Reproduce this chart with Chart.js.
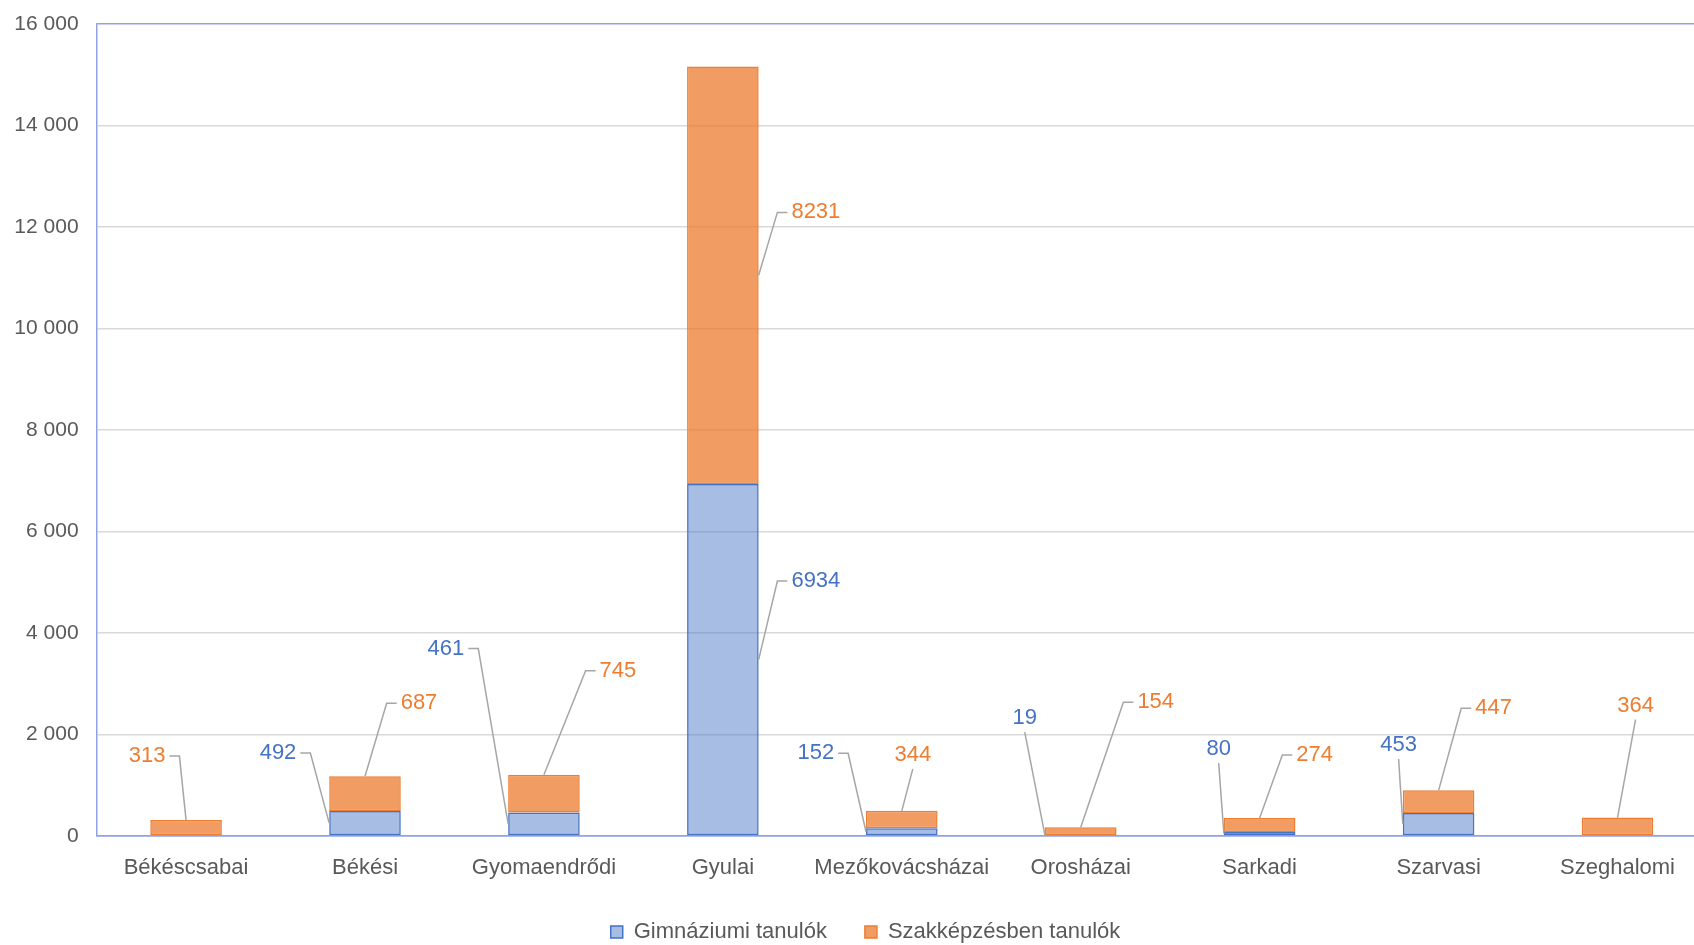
<!DOCTYPE html>
<html lang="hu">
<head>
<meta charset="utf-8">
<title>Tanulók járásonként</title>
<script src="https://cdn.jsdelivr.net/npm/chart.js@4.4.1/dist/chart.umd.min.js"></script>
<style>
  html, body { margin: 0; padding: 0; background: #fff; overflow: hidden; }
  #wrap { position: relative; width: 1730px; height: 945px; }
</style>
</head>
<body>
<div id="wrap"><canvas id="chart"></canvas></div>
<script>
// ── Data ────────────────────────────────────────────────────
const districts = ['Békéscsabai', 'Békési', 'Gyomaendrődi', 'Gyulai', 'Mezőkovácsházai',
                   'Orosházai', 'Sarkadi', 'Szarvasi', 'Szeghalomi'];
const gimnaziumi = [0, 492, 461, 6934, 152, 19, 80, 453, 0];
const szakkepzes = [313, 687, 745, 8231, 344, 154, 274, 447, 364];
const seriesNames = ['Gimnáziumi tanulók', 'Szakképzésben tanulók'];
const yTicks = { min: 0, max: 16000, step: 2000 };

// ── Style ───────────────────────────────────────────────────
const colors = {
  blue: '#4472C4',
  blueFill: 'rgba(68, 114, 196, 0.47)',
  orange: '#ED7D31',
  orangeFill: 'rgba(237, 125, 49, 0.76)',
  grid: '#D9D9D9',
  axis: '#8FA3E3',
  text: '#595959',
  leader: '#A6A6A6'
};
const FONT = "'Liberation Sans', Arial, sans-serif";

// where each moved data label sits, relative to its segment top (px),
// which side the leader leaves the label, and where it meets the bar
const labelPlacement = [
  [null,
   { dx: -87, dy: -58, stub: 'right', anchor: 'left' },
   { dx: -98, dy: -164, stub: 'right', anchor: 'left' },
   { dx: 93, dy: 97, stub: 'left', anchor: 'right' },
   { dx: -86, dy: -75, stub: 'right', anchor: 'left' },
   { dx: -56, dy: -117, stub: 'bottom', anchor: 'left' },
   { dx: -41, dy: -83, stub: 'bottom', anchor: 'left' },
   { dx: -40, dy: -68, stub: 'bottom', anchor: 'left' },
   null],
  [{ dx: -39, dy: -64, stub: 'right', anchor: 'top' },
   { dx: 54, dy: -73, stub: 'left', anchor: 'top' },
   { dx: 74, dy: -104, stub: 'left', anchor: 'top' },
   { dx: 93, dy: 146, stub: 'left', anchor: 'right' },
   { dx: 11, dy: -56, stub: 'bottom', anchor: 'top' },
   { dx: 75, dy: -125, stub: 'left', anchor: 'top' },
   { dx: 55, dy: -63, stub: 'left', anchor: 'top' },
   { dx: 55, dy: -82, stub: 'left', anchor: 'top' },
   { dx: 18, dy: -112, stub: 'bottom', anchor: 'top' }]
];

const fmtThousands = v => String(v).replace(/\B(?=(\d{3})+(?!\d))/g, ' ');

// Data labels with Excel-style leader lines
const calloutLabels = {
  id: 'calloutLabels',
  afterLayout(chart) {
    // legend sits a little right of the canvas centre, as in the source
    if (chart.legend) { chart.legend.left += 12; chart.legend.right += 12; }
  },
  afterDatasetsDraw(chart) {
    const ctx = chart.ctx;
    ctx.save();
    ctx.font = '22px ' + FONT;
    ctx.textAlign = 'center';
    ctx.textBaseline = 'middle';
    chart.data.datasets.forEach((ds, di) => {
      const meta = chart.getDatasetMeta(di);
      meta.data.forEach((el, i) => {
        const v = ds.data[i];
        const p = labelPlacement[di][i];
        if (!v || !p) return;
        const txt = String(v);
        const w = ctx.measureText(txt).width;
        const cx = el.x + p.dx;
        const cy = el.y + p.dy;

        // anchor point on the bar segment
        const half = el.width / 2;
        const mid = (el.y + el.base) / 2;
        let ax = el.x, ay = el.y;
        if (p.anchor === 'left') { ax = el.x - half; ay = mid; }
        if (p.anchor === 'right') { ax = el.x + half; ay = mid; }

        ctx.beginPath();
        if (p.stub === 'left') {
          ctx.moveTo(cx - w / 2 - 4, cy);
          ctx.lineTo(cx - w / 2 - 14, cy);
        } else if (p.stub === 'right') {
          ctx.moveTo(cx + w / 2 + 4, cy);
          ctx.lineTo(cx + w / 2 + 14, cy);
        } else {
          ctx.moveTo(cx, cy + 14);
        }
        ctx.lineTo(ax, ay);
        ctx.strokeStyle = colors.leader;
        ctx.lineWidth = 1.5;
        ctx.stroke();

        ctx.fillStyle = di === 0 ? colors.blue : colors.orange;
        ctx.fillText(txt, cx, cy);
      });
    });
    ctx.restore();
  }
};

new Chart(document.getElementById('chart'), {
  type: 'bar',
  data: {
    labels: districts,
    datasets: [
      {
        label: seriesNames[0],
        data: gimnaziumi,
        backgroundColor: colors.blueFill,
        borderColor: colors.blue,
        borderWidth: 1.5,
        borderSkipped: false
      },
      {
        label: seriesNames[1],
        data: szakkepzes,
        backgroundColor: colors.orangeFill,
        borderColor: colors.orange,
        borderWidth: 1.5,
        borderSkipped: false
      }
    ]
  },
  options: {
    responsive: true,
    maintainAspectRatio: false,
    animation: false,
    barPercentage: 0.4,
    categoryPercentage: 1,
    layout: { padding: { left: 0, right: 23, top: 0, bottom: -8 } },
    scales: {
      x: {
        stacked: true,
        grid: { display: false, drawTicks: false },
        border: { color: colors.axis, width: 1.5 },
        ticks: { color: colors.text, font: { family: FONT, size: 22 }, padding: 19, maxRotation: 0 },
        afterFit(scale) { scale.height = 47; }
      },
      y: {
        stacked: true,
        min: yTicks.min,
        max: yTicks.max,
        ticks: {
          stepSize: yTicks.step,
          color: colors.text,
          font: { family: FONT, size: 21 },
          padding: 18,
          callback: v => fmtThousands(v)
        },
        grid: {
          drawTicks: false,
          lineWidth: 1.5,
          color: c => (c.tick && (c.tick.value === yTicks.max || c.tick.value === 0)) ? colors.axis : colors.grid
        },
        border: { color: colors.axis, width: 1.5 },
        afterFit(scale) { scale.width = 96.6; scale.paddingTop = 24; }
      }
    },
    plugins: {
      legend: {
        position: 'bottom',
        labels: {
          color: colors.text,
          font: { family: FONT, size: 22 },
          boxWidth: 12,
          boxHeight: 12,
          padding: 38
        }
      },
      tooltip: { enabled: false }
    }
  },
  plugins: [calloutLabels]
});
</script>
</body>
</html>
